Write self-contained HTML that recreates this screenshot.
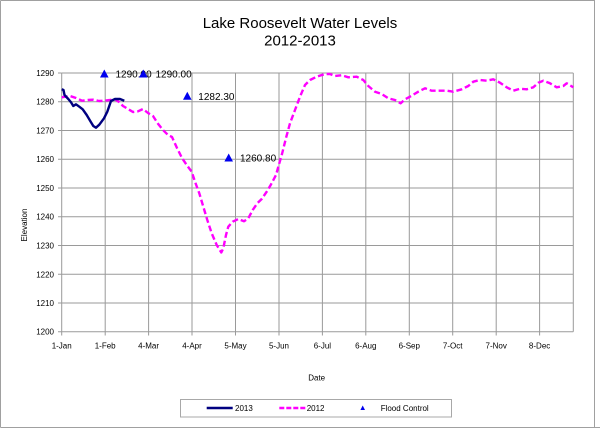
<!DOCTYPE html>
<html><head><meta charset="utf-8"><style>
html,body{margin:0;padding:0;background:#fff;}
svg{display:block;}
text{font-family:"Liberation Sans",Arial,sans-serif;fill:#000;}
</style></head><body>
<svg width="600" height="428" viewBox="0 0 600 428" xmlns="http://www.w3.org/2000/svg">
<rect x="0" y="0" width="600" height="428" fill="#fff"/>
<!-- outer border -->
<path d="M0.5,0.5 H595 M0.5,0.5 V427.5 M0.5,427.5 H600 M594.5,0.5 V428" stroke="#a0a0a0" stroke-width="1" fill="none"/>
<!-- title -->
<text x="300" y="28" font-size="15" text-anchor="middle">Lake Roosevelt Water Levels</text>
<text x="300" y="45.5" font-size="15" text-anchor="middle">2012-2013</text>
<!-- gridlines -->
<g stroke="#9a9a9a" stroke-width="1" fill="none">
<path d="M61.7,73 H573.3 M61.7,101.7 H573.3 M61.7,130.5 H573.3 M61.7,159.2 H573.3 M61.7,188 H573.3 M61.7,216.7 H573.3 M61.7,245.5 H573.3 M61.7,274.3 H573.3 M61.7,303 H573.3 M61.7,331.7 H573.3"/>
<path d="M61.7,73 V331.7 M105.2,73 V331.7 M148.6,73 V331.7 M192,73 V331.7 M235.5,73 V331.7 M279,73 V331.7 M322.4,73 V331.7 M365.8,73 V331.7 M409.3,73 V331.7 M452.7,73 V331.7 M496.2,73 V331.7 M539.6,73 V331.7 M573.3,73 V331.7"/>
<!-- ticks -->
<path d="M58,73 H61.7 M58,101.7 H61.7 M58,130.5 H61.7 M58,159.2 H61.7 M58,188 H61.7 M58,216.7 H61.7 M58,245.5 H61.7 M58,274.3 H61.7 M58,303 H61.7 M58,331.7 H61.7"/>
<path d="M61.7,331.7 V335.5 M105.2,331.7 V335.5 M148.6,331.7 V335.5 M192,331.7 V335.5 M235.5,331.7 V335.5 M279,331.7 V335.5 M322.4,331.7 V335.5 M365.8,331.7 V335.5 M409.3,331.7 V335.5 M452.7,331.7 V335.5 M496.2,331.7 V335.5 M539.6,331.7 V335.5"/>
</g>
<!-- y labels -->
<g font-size="8" text-anchor="end">
<text x="54" y="76">1290</text>
<text x="54" y="104.7">1280</text>
<text x="54" y="133.5">1270</text>
<text x="54" y="162.2">1260</text>
<text x="54" y="191">1250</text>
<text x="54" y="219.7">1240</text>
<text x="54" y="248.5">1230</text>
<text x="54" y="277.3">1220</text>
<text x="54" y="306">1210</text>
<text x="54" y="334.7">1200</text>
</g>
<!-- x labels -->
<g font-size="8" text-anchor="middle">
<text x="61.7" y="348.5">1-Jan</text>
<text x="105.2" y="348.5">1-Feb</text>
<text x="148.6" y="348.5">4-Mar</text>
<text x="192" y="348.5">4-Apr</text>
<text x="235.5" y="348.5">5-May</text>
<text x="279" y="348.5">5-Jun</text>
<text x="322.4" y="348.5">6-Jul</text>
<text x="365.8" y="348.5">6-Aug</text>
<text x="409.3" y="348.5">6-Sep</text>
<text x="452.7" y="348.5">7-Oct</text>
<text x="496.2" y="348.5">7-Nov</text>
<text x="539.6" y="348.5">8-Dec</text>
</g>
<text x="316.7" y="380.5" font-size="8" text-anchor="middle">Date</text>
<text x="0" y="0" font-size="8" text-anchor="middle" transform="translate(27,225) rotate(-90)">Elevation</text>
<!-- 2012 series -->
<polyline fill="none" stroke="#ff00ff" stroke-width="2.4" stroke-dasharray="6,3" stroke-linejoin="round" points="61.7,97.3 70,96 76,98 82,100.7 88,100 93,99.7 99,101 104,100.7 110,100 115,99.3 119,102 123,106 128,109 133,112 138,111.3 143,109 148,113 153,116 158,123.7 163,130 168,135 172,137 177,148 182,158 186.7,165 191.7,171.7 195,181.7 199.3,193.3 203.3,206.7 207.3,220 211.7,233.3 216.7,245 221.3,252.5 223.3,248.3 226,235 228.3,226.7 232.7,221.7 238.3,219 244,221.3 248.3,218.3 252.7,210 257.3,203.3 261.7,199 266.7,191.7 270.7,185 276,175 279.3,163.3 282,154 286,138 290,123.3 295,110 300,96.7 305,85 310,80 316.7,76.7 325,74 330,74 335,76 341.7,75.3 348.3,77.3 356.7,76.7 363.3,80 368.3,86 375,91.7 381.7,94 388.3,98.3 395,100 400.7,103.3 405,99.3 411.7,95.7 418.3,91.7 425,88.3 431.7,90.7 438.3,90.7 446.7,90.7 453.3,91.7 461.7,89.3 468.3,86 473.3,81.7 480,80 486.7,80.7 493.3,79.3 500,82.7 506.7,87.3 513.3,90.7 520,88.7 526.7,89.3 533.3,87.3 538.3,82.7 543.3,80.7 550,83.3 556.7,87.3 563.3,86 566.7,83.3 573.3,87.3"/>
<!-- 2013 series -->
<polyline fill="none" stroke="#000080" stroke-width="2.4" stroke-linejoin="round" points="61.7,89.3 63.5,90 64.5,95 68.3,99 71,102.3 73.3,106 76,104.3 79.3,106.7 82.7,109.3 86.7,115 90.7,121.7 93.3,126 96,127.7 99.3,124.7 104,118.3 107.3,111.7 111,101 115,99 120,99 124.3,100.7"/>
<!-- flood labels -->
<g font-size="10">
<text x="115.5" y="77.5">1290.00</text>
<text x="155.5" y="77.5">1290.00</text>
<text x="198.3" y="99.8">1282.30</text>
<text x="240" y="161.5">1260.80</text>
</g>
<!-- flood triangles -->
<g fill="#0000ee">
<polygon points="104.3,69.5 108.6,77.5 100,77.5"/>
<polygon points="143.3,69.5 147.6,77.5 139,77.5"/>
<polygon points="187.3,91.8 191.6,99.8 183,99.8"/>
<polygon points="228.7,153.5 233,161.5 224.4,161.5"/>
</g>
<!-- legend -->
<rect x="180.5" y="399.5" width="271" height="17.5" fill="#fff" stroke="#a8a8a8" stroke-width="1"/>
<line x1="206.7" y1="408" x2="232.7" y2="408" stroke="#000080" stroke-width="2.4"/>
<text x="235" y="411" font-size="8">2013</text>
<line x1="279.3" y1="408" x2="306.5" y2="408" stroke="#ff00ff" stroke-width="2.4" stroke-dasharray="5,2"/>
<text x="306.7" y="411" font-size="8">2012</text>
<polygon points="362.7,405.5 365,410 360.4,410" fill="#0000ee"/>
<text x="380.7" y="411" font-size="8">Flood Control</text>
</svg>
</body></html>
